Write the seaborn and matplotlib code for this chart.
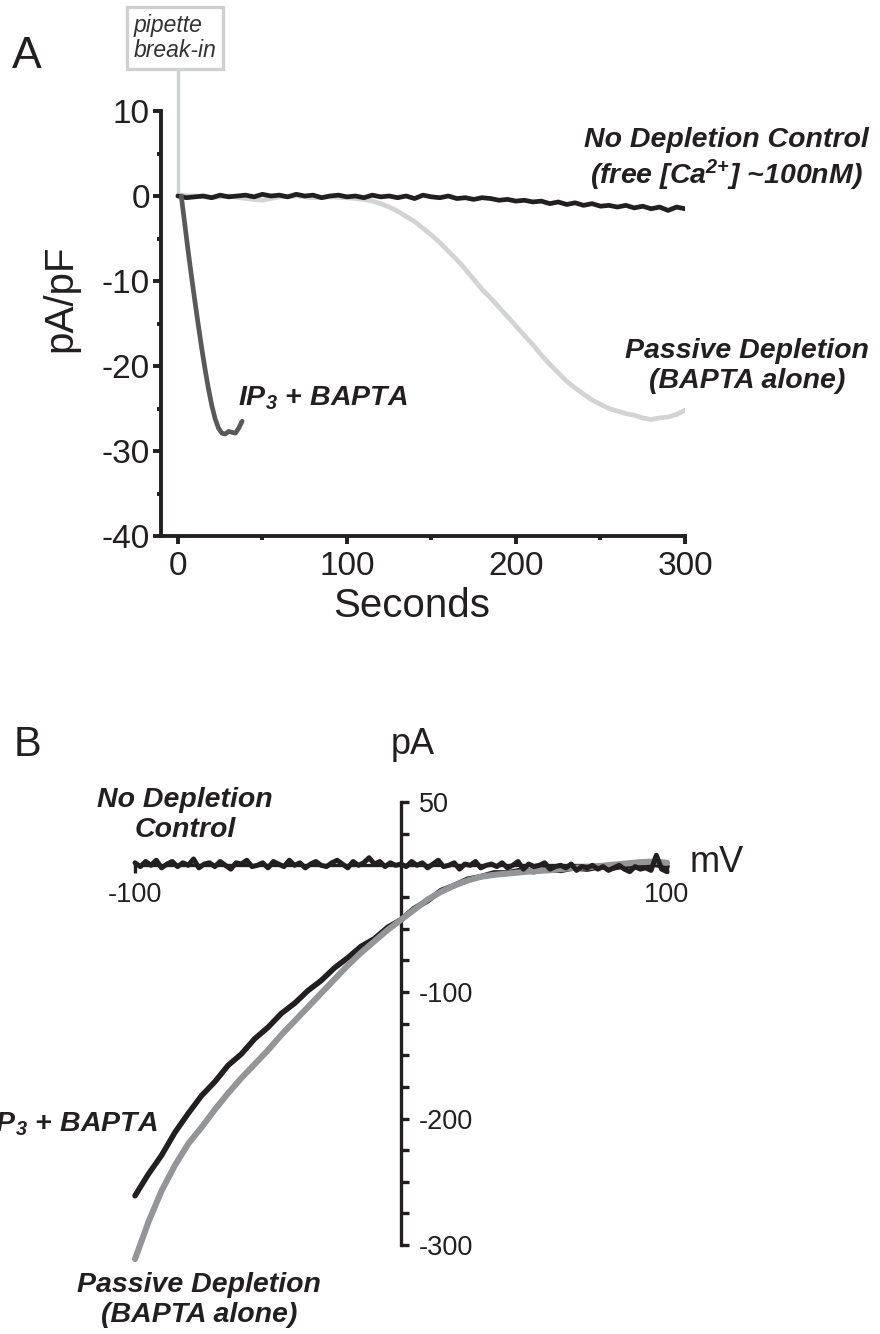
import matplotlib
matplotlib.use("Agg")
import matplotlib.pyplot as plt
import seaborn as sns
from matplotlib.ticker import FixedLocator, FuncFormatter

# ---------------- Panel A data (pA/pF vs seconds) ----------------
a_control_t = list(range(0, 301, 5))
a_control_y = [0.0, -0.2, -0.1, 0.0, -0.2, 0.1, -0.1, 0.0, 0.1, -0.1,
               0.2, 0.0, 0.1, -0.1, 0.2, 0.0, 0.1, -0.2, 0.0, 0.1,
               -0.1, 0.0, -0.2, 0.1, -0.1, 0.0, -0.2, 0.0, -0.3, 0.1,
               -0.1, -0.2, 0.0, -0.3, -0.2, -0.4, -0.2, -0.3, -0.5, -0.4,
               -0.6, -0.5, -0.7, -0.6, -0.9, -0.7, -1.0, -0.8, -1.1, -0.9,
               -1.2, -1.1, -1.3, -1.1, -1.4, -1.2, -1.5, -1.3, -1.7, -1.3,
               -1.5]

a_passive_t = list(range(0, 101, 10)) + list(range(105, 301, 5))
a_passive_y = [0.1, 0.0, -0.2, 0.0, -0.3, -0.5, -0.1, 0.0, -0.2, -0.1, -0.2,
               -0.3, -0.4, -0.6, -0.9, -1.3, -1.8, -2.4, -3.0, -3.8, -4.6,
               -5.5, -6.5, -7.5, -8.6, -9.8, -11.0, -12.0, -13.1, -14.2, -15.3,
               -16.4, -17.5, -18.7, -19.8, -20.8, -21.8, -22.6, -23.3, -24.0, -24.5,
               -25.0, -25.3, -25.6, -25.8, -26.1, -26.3, -26.1, -26.0, -25.7, -25.2]

a_ip3_t = [2, 4, 6, 8, 10, 12, 14, 16, 18, 20, 22, 24, 26, 28, 30, 32, 34, 36, 38]
a_ip3_y = [0.0, -3.2, -6.4, -9.4, -12.3, -15.1, -17.8, -20.3, -22.6, -24.6,
           -26.2, -27.3, -27.9, -28.0, -27.7, -27.8, -27.9, -27.3, -26.5]

a_xticks = [0, 100, 200, 300]
a_yticks = [10, 0, -10, -20, -30, -40]

# ---------------- Panel B data (pA vs mV) ----------------
b_ctrl_mv = list(range(-100, 101, 2))
b_ctrl_pa = [2, -1, 3, 0, 4, -2, 1, 3, -1, 2,
             0, 5, -2, 1, 2, -1, 3, 0, -3, 2,
             1, 4, -1, 0, 2, -2, 3, 1, -1, 4,
             0, 2, -2, 1, 3, 0, -1, 2, 4, 1,
             -2, 3, 0, 2, 6, 1, 3, -1, 2, 0,
             1, -1, 3, 0, 2, -2, 1, 4, -1, 0,
             2, -3, 1, 0, 3, -2, 0, 1, -1, 2,
             -2, 0, 3, -3, 1, -1, 0, 2, -3, -1,
             0, -2, 1, -4, -1, -2, 0, -3, -1, -4,
             -2, 0, -3, -5, -1, -3, -2, -4, 8, -3,
             -5]

b_ip3_mv = list(range(-100, 101, 5))
b_ip3_pa = [-261, -244, -229, -211, -196, -182, -171, -158, -149, -137,
            -128, -117, -109, -99, -91, -81, -73, -64, -58, -49,
            -43, -34, -28, -20, -16, -11, -9, -6, -6, -4,
            -5, -3, -4, -2, -3, -1, -2, 0, -2, 1, -1]

b_pass_mv = list(range(-100, 101, 5))
b_pass_pa = [-311, -282, -257, -237, -220, -207, -193, -180, -168, -157,
             -146, -134, -123, -112, -101, -90, -79, -69, -60, -51,
             -43, -35, -27, -21, -16, -12, -9, -7.5, -6.5, -5.5,
             -4.5, -4, -3, -2, -1.5, -0.5, 0.5, 1.5, 2.5, 3, 2]

b_yticks = list(range(50, -301, -25))
b_ylabels = {50: "50", -100: "-100", -200: "-200", -300: "-300"}
b_xticks = [-100, 100]

# ---------------- style ----------------
sns.set_style("ticks")
plt.rcParams["font.family"] = ["Liberation Sans", "DejaVu Sans"]
plt.rcParams["axes.unicode_minus"] = False
plt.rcParams["mathtext.fontset"] = "custom"
plt.rcParams["mathtext.rm"] = "Liberation Sans:italic:bold"
plt.rcParams["mathtext.it"] = "Liberation Sans:italic:bold"
plt.rcParams["mathtext.bf"] = "Liberation Sans:italic:bold"

INK = "#231f20"
DARK = "#58595b"
LIGHT = "#d1d3d4"
MID = "#939598"

W, H = 880, 1334
fig = plt.figure(figsize=(W / 100, H / 100), dpi=100)


def fx(x):
    return x / W


def fy(y):
    return 1 - y / H


# ---------------- Panel A ----------------
axA = fig.add_axes([fx(161), fy(536), 524 / W, 425 / H])
sns.lineplot(x=a_passive_t, y=a_passive_y, ax=axA, color=LIGHT, linewidth=3.4,
             estimator=None, sort=False, legend=False)
sns.lineplot(x=a_control_t, y=a_control_y, ax=axA, color=INK, linewidth=3.4,
             estimator=None, sort=False, legend=False)
sns.lineplot(x=a_ip3_t, y=a_ip3_y, ax=axA, color=DARK, linewidth=3.4,
             estimator=None, sort=False, legend=False)
# pipette break-in marker line
axA.plot([0, 0], [0, 14.7], color="#cfd0d2", lw=2.4, clip_on=False, zorder=1)

axA.set_xlim(-10, 300)
axA.set_ylim(-40, 10)
axA.xaxis.set_major_locator(FixedLocator(a_xticks))
axA.xaxis.set_minor_locator(FixedLocator([50, 150, 250]))
axA.yaxis.set_major_locator(FixedLocator(a_yticks))
axA.yaxis.set_minor_locator(FixedLocator([5, -5, -15, -25, -35]))
for s in ["top", "right"]:
    axA.spines[s].set_visible(False)
for s in ["left", "bottom"]:
    axA.spines[s].set_linewidth(2.8)
    axA.spines[s].set_color(INK)
axA.tick_params(which="major", length=6, width=2.8, color=INK, labelsize=24,
                labelcolor=INK)
axA.tick_params(which="minor", length=3, width=2.8, color=INK)
axA.tick_params(axis="y", pad=2)
axA.tick_params(axis="x", pad=5)
axA.set_xlabel("Seconds", fontsize=29, color=INK)
axA.set_ylabel("pA/pF", fontsize=29, color=INK)
axA.xaxis.set_label_coords(0.479, -0.12)
axA.yaxis.set_label_coords(-0.155, 0.56)

fig.text(fx(27), fy(56), "A", fontsize=32, ha="center", va="center", color=INK)
fig.text(fx(175), fy(38), "pipette\nbreak-in", fontsize=16.5, style="italic",
         ha="center", va="center", multialignment="left", color="#333333",
         linespacing=1.15,
         bbox=dict(boxstyle="square,pad=0.3", fc="white", ec="#cfd0d2", lw=2.4))
bi = dict(fontsize=20.5, weight="bold", style="italic", color=INK)
fig.text(fx(726), fy(160), "No Depletion Control\n(free [Ca$^{2{+}}$] ~100nM)",
         ha="center", va="center", linespacing=1.2, **bi)
fig.text(fx(238), fy(405), "IP$_3$ + BAPTA", ha="left", va="baseline", **bi)
fig.text(fx(747), fy(366), "Passive Depletion\n(BAPTA alone)",
         ha="center", va="center", linespacing=1.2, **bi)

# ---------------- Panel B ----------------
axB = fig.add_axes([fx(129.7), fy(1264.1), 542.6 / W, 468.4 / H])
sns.lineplot(x=b_ip3_mv, y=b_ip3_pa, ax=axB, color=INK, linewidth=4.0,
             estimator=None, sort=False, legend=False)
sns.lineplot(x=b_pass_mv, y=b_pass_pa, ax=axB, color=MID, linewidth=4.4,
             estimator=None, sort=False, legend=False)
sns.lineplot(x=b_ctrl_mv, y=b_ctrl_pa, ax=axB, color=INK, linewidth=3.6,
             estimator=None, sort=False, legend=False)
axB.set_xlim(-102, 102)
axB.set_ylim(-315, 55)

axB.spines["top"].set_visible(False)
axB.spines["left"].set_visible(False)
axB.spines["right"].set_position(("data", 0))
axB.spines["right"].set_bounds(-300, 50)
axB.spines["bottom"].set_position(("data", 0))
axB.spines["bottom"].set_bounds(-100, 100)
for s in ["right", "bottom"]:
    axB.spines[s].set_linewidth(2.4)
    axB.spines[s].set_color(INK)
    axB.spines[s].set_zorder(0.5)
axB.yaxis.set_ticks_position("right")
axB.yaxis.set_major_locator(FixedLocator(b_yticks))
axB.yaxis.set_major_formatter(FuncFormatter(lambda v, p: b_ylabels.get(int(round(v)), "")))
axB.xaxis.set_major_locator(FixedLocator(b_xticks))
axB.xaxis.set_major_formatter(FuncFormatter(lambda v, p: f"{int(v)}"))
axB.tick_params(axis="y", direction="out", length=6, width=2.4, color=INK,
                labelsize=19.5, labelcolor=INK, pad=7)
axB.tick_params(axis="x", direction="out", length=6, width=2.4, color=INK,
                labelsize=19.5, labelcolor=INK, pad=6)

fig.text(fx(27), fy(745), "B", fontsize=30, ha="center", va="center", color=INK)
fig.text(fx(413), fy(745), "pA", fontsize=26, ha="center", va="center", color=INK)
fig.text(fx(690), fy(862), "mV", fontsize=26, ha="left", va="center", color=INK)
fig.text(fx(185), fy(815), "No Depletion\nControl", ha="center", va="center",
         linespacing=1.2, **bi)
fig.text(fx(158), fy(1132), "IP$_3$ + BAPTA", ha="right", va="baseline", **bi)
fig.text(fx(199), fy(1300), "Passive Depletion\n(BAPTA alone)", ha="center",
         va="center", linespacing=1.2, **bi)

fig.savefig("out.png", dpi=100, facecolor="white")
